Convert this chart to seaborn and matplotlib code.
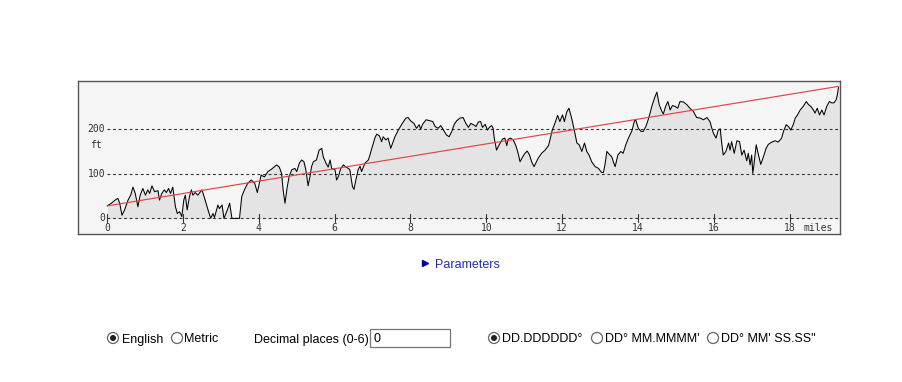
import numpy as np
import pandas as pd
import matplotlib
matplotlib.use("Agg")
import matplotlib.pyplot as plt
import seaborn as sns
from matplotlib.patches import Circle, Rectangle

sns.set_theme(style="white")
plt.rcParams["font.family"] = ["Liberation Sans", "DejaVu Sans"]

# elevation profile (miles, feet)
miles = [
    0.00, 0.11, 0.21, 0.28, 0.33, 0.39, 0.46, 0.55, 0.62, 0.68, 0.74, 0.81, 0.87, 0.94,
    1.01, 1.07, 1.12, 1.18, 1.25, 1.34, 1.38, 1.44, 1.51, 1.56, 1.62, 1.67, 1.73, 1.80,
    1.85, 1.91, 1.97, 2.02, 2.06, 2.11, 2.17, 2.22, 2.26, 2.32, 2.39, 2.50, 2.57, 2.66,
    2.73, 2.79, 2.83, 2.92, 2.96, 3.03, 3.08, 3.17, 3.23, 3.29, 3.49, 3.55, 3.62, 3.71,
    3.80, 3.89, 3.96, 4.02, 4.06, 4.15, 4.24, 4.33, 4.47, 4.54, 4.60, 4.64, 4.69, 4.75,
    4.80, 4.87, 4.95, 5.00, 5.07, 5.13, 5.19, 5.24, 5.30, 5.35, 5.39, 5.44, 5.52, 5.59,
    5.66, 5.70, 5.77, 5.83, 5.88, 5.92, 6.01, 6.05, 6.10, 6.16, 6.23, 6.30, 6.36, 6.40,
    6.47, 6.51, 6.56, 6.62, 6.67, 6.71, 6.80, 6.89, 6.93, 6.98, 7.06, 7.11, 7.18, 7.24,
    7.28, 7.35, 7.41, 7.48, 7.59, 7.68, 7.77, 7.88, 7.94, 8.00, 8.09, 8.16, 8.23, 8.27,
    8.32, 8.41, 8.51, 8.59, 8.65, 8.73, 8.80, 8.87, 8.95, 9.02, 9.09, 9.15, 9.22, 9.31,
    9.39, 9.46, 9.53, 9.59, 9.66, 9.73, 9.79, 9.85, 9.90, 9.97, 10.03, 10.08, 10.14, 10.18,
    10.21, 10.27, 10.34, 10.43, 10.49, 10.54, 10.58, 10.64, 10.71, 10.78, 10.84, 10.89, 10.96, 11.02,
    11.08, 11.14, 11.20, 11.26, 11.37, 11.46, 11.55, 11.64, 11.68, 11.74, 11.81, 11.88, 11.94, 12.01,
    12.06, 12.12, 12.18, 12.25, 12.32, 12.39, 12.45, 12.52, 12.59, 12.65, 12.71, 12.78, 12.87, 12.96,
    13.04, 13.09, 13.13, 13.18, 13.24, 13.31, 13.35, 13.40, 13.47, 13.55, 13.61, 13.68, 13.75, 13.84,
    13.91, 13.94, 14.01, 14.08, 14.14, 14.21, 14.27, 14.32, 14.38, 14.45, 14.50, 14.56, 14.63, 14.67,
    14.73, 14.79, 14.85, 14.91, 14.98, 15.05, 15.11, 15.20, 15.29, 15.37, 15.46, 15.55, 15.64, 15.73,
    15.82, 15.90, 15.95, 15.99, 16.06, 16.12, 16.17, 16.21, 16.25, 16.32, 16.39, 16.43, 16.47, 16.54,
    16.61, 16.68, 16.74, 16.80, 16.87, 16.91, 16.96, 17.00, 17.03, 17.06, 17.12, 17.18, 17.24, 17.31,
    17.38, 17.44, 17.53, 17.62, 17.70, 17.79, 17.84, 17.91, 17.97, 18.03, 18.10, 18.15, 18.21, 18.28,
    18.36, 18.44, 18.50, 18.56, 18.63, 18.67, 18.73, 18.79, 18.85, 18.91, 18.98, 19.05, 19.11, 19.17,
    19.23, 19.26, 19.29,
]
elev_ft = [
    28, 34, 41, 45, 34, 7, 19, 41, 52, 70, 56, 26, 52, 67,
    52, 64, 56, 73, 60, 62, 41, 56, 64, 58, 67, 56, 70, 26,
    11, 15, 4, 41, 52, 19, 49, 64, 52, 58, 52, 64, 45, 19,
    0, 11, 2, 30, 22, 30, 0, 19, 34, 0, 0, 49, 64, 79,
    86, 79, 58, 82, 97, 93, 105, 110, 120, 115, 101, 64, 34, 71,
    94, 109, 112, 105, 124, 131, 127, 109, 73, 94, 116, 127, 131, 153,
    157, 138, 124, 115, 131, 112, 109, 86, 94, 112, 120, 115, 112, 109,
    71, 65, 86, 109, 117, 105, 124, 131, 142, 157, 180, 189, 185, 172,
    183, 176, 180, 157, 183, 198, 211, 225, 226, 219, 213, 202, 210, 200,
    211, 221, 219, 217, 206, 202, 208, 198, 187, 183, 195, 210, 219, 225,
    226, 213, 204, 213, 210, 206, 216, 217, 204, 211, 198, 204, 208, 202,
    180, 153, 165, 178, 180, 163, 178, 180, 176, 163, 146, 127, 138, 146,
    151, 142, 126, 116, 135, 146, 153, 163, 176, 198, 213, 231, 217, 232,
    217, 238, 247, 225, 198, 169, 165, 150, 169, 150, 142, 127, 116, 112,
    103, 103, 120, 150, 144, 138, 127, 116, 142, 150, 146, 165, 180, 196,
    219, 221, 202, 195, 195, 206, 221, 236, 255, 273, 283, 255, 240, 234,
    251, 262, 243, 253, 251, 247, 262, 261, 255, 247, 240, 226, 225, 221,
    226, 217, 202, 191, 180, 198, 201, 169, 142, 150, 169, 153, 172, 146,
    174, 172, 142, 153, 129, 146, 120, 142, 101, 120, 165, 142, 121, 138,
    157, 166, 171, 174, 171, 180, 195, 210, 206, 198, 211, 225, 232, 243,
    251, 262, 255, 251, 243, 236, 247, 232, 243, 232, 251, 262, 259, 259,
    266, 277, 294,
]
trend_miles = [0.0, 19.29]
trend_ft = [28, 296]

grid_ft = [0, 100, 200]
x_ticks = [0, 2, 4, 6, 8, 10, 12, 14, 16, 18]
x_tick_labels = ["0", "2", "4", "6", "8", "10", "12", "14", "16", "18"]

df = pd.DataFrame({"miles": miles, "elev": elev_ft})

W, H = 902, 382
fig = plt.figure(figsize=(W / 100, H / 100), dpi=100)
fig.patch.set_facecolor("white")

# chart box in pixels: x 78..840, y 81..234
ax = fig.add_axes([78 / W, (H - 234) / H, 762 / W, 153 / H])
ax.set_facecolor("#f5f5f5")
ax.set_xlim(-0.77, 19.33)
ax.set_ylim(-35, 308)

ax.fill_between(df["miles"], 0, df["elev"], color="#e4e4e4", lw=0, zorder=1)
ax.hlines(grid_ft, 0, 19.33, colors="#333333", linestyles=(0, (2.5, 2.5)), lw=0.8, zorder=2)
sns.lineplot(data=df, x="miles", y="elev", ax=ax, color="black", lw=0.75,
             estimator=None, sort=False, zorder=3)
ax.plot(trend_miles, trend_ft, color="#e04545", lw=0.85, zorder=4)

mono = "DejaVu Sans Mono"
for t, lab in zip(x_ticks, x_tick_labels):
    ax.plot([t, t], [-9, 9], color="#333333", lw=0.8, zorder=2)
    ax.text(t, -11, lab, ha="center", va="top", fontsize=7, family=mono, color="#333333")
ax.text(18.38, -11, "miles", ha="left", va="top", fontsize=7, family=mono, color="#333333")
for g in grid_ft:
    ax.text(-0.05, g, str(g), ha="right", va="center", fontsize=7, family=mono, color="#333333")
ax.text(-0.3, 165, "ft", ha="center", va="center", fontsize=7, family=mono, color="#333333")

ax.set_xlabel("")
ax.set_ylabel("")
ax.set_xticks([])
ax.set_yticks([])
for s in ax.spines.values():
    s.set_color("#555555")
    s.set_linewidth(1.0)

# form controls below the chart, pixel coordinates
ui = fig.add_axes([0, 0, 1, 1], facecolor="none")
ui.set_xlim(0, W)
ui.set_ylim(H, 0)
ui.axis("off")

ui.plot([425], [263], marker=">", color="#00009c", markersize=5)
ui.text(435, 268.5, "Parameters", ha="left", va="baseline", fontsize=9, color="#1f2fb0")


def radio(x, y, on):
    ui.add_patch(Circle((x, y), 5.5, facecolor="white", edgecolor="#666666", lw=0.9))
    if on:
        ui.add_patch(Circle((x, y), 3, facecolor="#222222", edgecolor="none"))


base = 342.5
radio(113, 338, True)
ui.text(122, base, "English", ha="left", va="baseline", fontsize=9, color="black")
radio(177, 338, False)
ui.text(184, base, "Metric", ha="left", va="baseline", fontsize=9, color="black")
ui.text(254, base, "Decimal places (0-6)", ha="left", va="baseline", fontsize=9, color="black")
ui.add_patch(Rectangle((370, 329), 80, 18, facecolor="white", edgecolor="#767676", lw=0.9))
ui.text(373, base, "0", ha="left", va="baseline", fontsize=9, color="black")
radio(494, 338, True)
ui.text(502, base, "DD.DDDDDD°", ha="left", va="baseline", fontsize=9, color="black")
radio(597, 338, False)
ui.text(605, base, "DD° MM.MMMM'", ha="left", va="baseline", fontsize=9, color="black")
radio(713, 338, False)
ui.text(721, base, "DD° MM' SS.SS\"", ha="left", va="baseline", fontsize=9, color="black")

fig.savefig("out.png", dpi=100)
